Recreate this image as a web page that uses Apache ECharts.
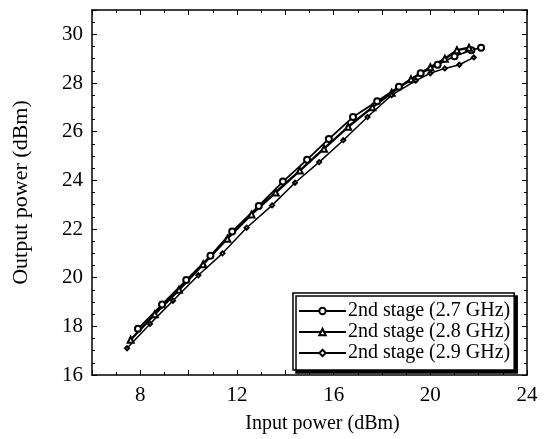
<!DOCTYPE html>
<html><head><meta charset="utf-8">
<script src="https://cdn.jsdelivr.net/npm/echarts@6/dist/echarts.min.js"></script>
<style>html,body{margin:0;padding:0;background:#fff}#c{width:544px;height:439px}</style>
</head><body><div id="c"></div>
<script>
const seriesNames = ['2nd stage (2.7 GHz)', '2nd stage (2.8 GHz)', '2nd stage (2.9 GHz)'];
const x27 = [7.9, 8.9, 9.9, 10.9, 11.8, 12.9, 13.9, 14.9, 15.8, 16.8, 17.8, 18.7, 19.6, 20.3, 21.0, 21.7, 22.1];
const y27 = [17.9, 18.9, 19.9, 20.9, 21.9, 22.95, 23.95, 24.85, 25.7, 26.6, 27.25, 27.85, 28.4, 28.75, 29.1, 29.35, 29.45];
const x28 = [7.6, 8.6, 9.6, 10.6, 11.6, 12.6, 13.6, 14.6, 15.6, 16.6, 17.6, 18.4, 19.2, 20.0, 20.6, 21.1, 21.6];
const y28 = [17.45, 18.5, 19.5, 20.55, 21.6, 22.6, 23.5, 24.4, 25.3, 26.2, 27.0, 27.6, 28.15, 28.65, 29.0, 29.35, 29.45];
const x29 = [7.45, 8.4, 9.35, 10.4, 11.4, 12.4, 13.45, 14.4, 15.4, 16.4, 17.4, 18.4, 19.4, 20.0, 20.6, 21.2, 21.8];
const y29 = [17.1, 18.1, 19.05, 20.1, 21.0, 22.05, 22.97, 23.9, 24.75, 25.65, 26.6, 27.5, 28.1, 28.4, 28.6, 28.75, 29.05];
const xTickLabels = [8, 12, 16, 20, 24];
const yTickLabels = [16, 18, 20, 22, 24, 26, 28, 30];

const pair = (xs, ys) => xs.map((v, i) => [v, ys[i]]);
const font = 'Liberation Serif';
const axisLineStyle = { color: '#000', width: 1.5 };

const chart = echarts.init(document.getElementById('c'), null, { renderer: 'canvas' });
const xBase = {
  type: 'value', min: 6, max: 24, interval: 2,
  axisLine: { show: true, lineStyle: axisLineStyle },
  axisTick: { show: true, inside: true, length: 5, lineStyle: { color: '#000', width: 1 } },
  minorTick: { show: true, splitNumber: 2, length: 3, lineStyle: { color: '#000', width: 1 } },
  splitLine: { show: false }
};
const yBase = {
  type: 'value', min: 16, max: 31, interval: 2,
  axisLine: { show: true, lineStyle: axisLineStyle },
  axisTick: { show: true, inside: true, length: 5, lineStyle: { color: '#000', width: 1 } },
  minorTick: { show: true, splitNumber: 4, length: 3, lineStyle: { color: '#000', width: 1 } },
  splitLine: { show: false }
};
chart.setOption({
  animation: false,
  backgroundColor: '#fff',
  grid: { left: 92, right: 17, top: 10, bottom: 61 },
  legend: {
    orient: 'vertical', left: 293, top: 293,
    data: seriesNames,
    itemWidth: 47, itemHeight: 8, itemGap: 1,
    padding: [8, 4, 7, 5],
    backgroundColor: '#fff', borderColor: '#000', borderWidth: 1.5, borderRadius: 0,
    shadowColor: '#000', shadowBlur: 0, shadowOffsetX: 3, shadowOffsetY: 3,
    textStyle: { fontFamily: font, fontSize: 20, color: '#000', padding: [0, 0, 0, -3] }
  },
  xAxis: [
    Object.assign({}, xBase, {
      position: 'bottom',
      name: 'Input power (dBm)', nameLocation: 'middle', nameGap: 39,
      nameTextStyle: { fontFamily: font, fontSize: 20, color: '#000', padding: [0, 0, 0, 26] },
      axisLabel: {
        margin: 10, fontFamily: font, fontSize: 21, color: '#000',
        formatter: v => (xTickLabels.indexOf(v) >= 0 ? String(v) : '')
      }
    }),
    Object.assign({}, xBase, { position: 'top', axisLabel: { show: false } })
  ],
  yAxis: [
    Object.assign({}, yBase, {
      position: 'left',
      name: 'Output power (dBm)', nameLocation: 'middle', nameGap: 60,
      nameTextStyle: { fontFamily: font, fontSize: 22, color: '#000' },
      axisLabel: {
        margin: 9, fontFamily: font, fontSize: 21, color: '#000',
        formatter: v => (yTickLabels.indexOf(v) >= 0 ? String(v) : '')
      }
    }),
    Object.assign({}, yBase, { position: 'right', axisLabel: { show: false } })
  ],
  series: [
    { name: seriesNames[0], type: 'line', data: pair(x27, y27),
      symbol: 'emptyCircle', symbolSize: 6, showAllSymbol: true,
      lineStyle: { color: '#000', width: 1.8 }, itemStyle: { color: '#000', borderWidth: 1 } },
    { name: seriesNames[1], type: 'line', data: pair(x28, y28),
      symbol: 'emptyTriangle', symbolSize: 6, showAllSymbol: true,
      lineStyle: { color: '#000', width: 2.4 }, itemStyle: { color: '#000', borderWidth: 1 } },
    { name: seriesNames[2], type: 'line', data: pair(x29, y29),
      symbol: 'emptyDiamond', symbolSize: 4, showAllSymbol: true,
      lineStyle: { color: '#000', width: 1.5 }, itemStyle: { color: '#000', borderWidth: 1 } }
  ]
});
</script></body></html>
